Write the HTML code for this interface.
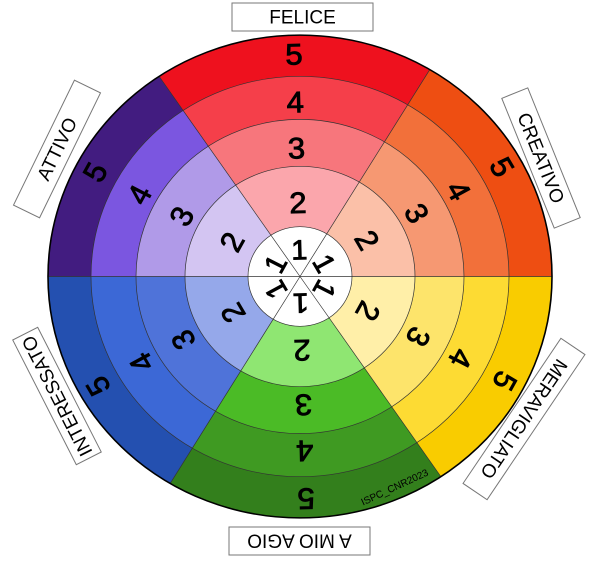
<!DOCTYPE html>
<html><head><meta charset="utf-8"><style>
html,body{margin:0;padding:0;background:#fff;}
svg{display:block;}
text{font-family:"Liberation Sans",sans-serif;}
</style></head><body>
<svg width="600" height="561" viewBox="0 0 600 561" xmlns="http://www.w3.org/2000/svg">
<defs>
<clipPath id="cR"><polygon points="0,0 -279.5,-414.5 257.5,-428.5"/></clipPath>
<clipPath id="cO"><polygon points="0,0 257.5,-428.5 500,0"/></clipPath>
<clipPath id="cY"><polygon points="0,0 500,0 279.5,414.5"/></clipPath>
<clipPath id="cG"><polygon points="0,0 279.5,414.5 -257.5,428.5"/></clipPath>
<clipPath id="cB"><polygon points="0,0 -257.5,428.5 -500,0"/></clipPath>
<clipPath id="cP"><polygon points="0,0 -500,0 -279.5,-414.5"/></clipPath>
</defs>
<g transform="translate(300,276.5) scale(1,0.958)">
<g clip-path="url(#cR)"><circle r="252" fill="#ee111e"/><circle r="209" fill="#f53f4a"/><circle r="164" fill="#f7767c"/><circle r="115" fill="#fba6ac"/></g>
<g clip-path="url(#cO)"><circle r="252" fill="#ee4e12"/><circle r="209" fill="#f2703a"/><circle r="164" fill="#f69872"/><circle r="115" fill="#fbc0a8"/></g>
<g clip-path="url(#cY)"><circle r="252" fill="#f9cc00"/><circle r="209" fill="#fddb33"/><circle r="164" fill="#fde46b"/><circle r="115" fill="#ffefa8"/></g>
<g clip-path="url(#cG)"><circle r="252" fill="#337f1c"/><circle r="209" fill="#3f9a22"/><circle r="164" fill="#4bbb26"/><circle r="115" fill="#8fe672"/></g>
<g clip-path="url(#cB)"><circle r="252" fill="#2450b0"/><circle r="209" fill="#3c68d6"/><circle r="164" fill="#4f73d9"/><circle r="115" fill="#95a8ea"/></g>
<g clip-path="url(#cP)"><circle r="252" fill="#421c80"/><circle r="209" fill="#7b56e0"/><circle r="164" fill="#b09ae8"/><circle r="115" fill="#d3c5f2"/></g>
<circle r="52" fill="#fff"/>
<g fill="none" stroke="#333" stroke-width="0.7">
<circle r="52"/><circle r="115"/><circle r="164"/><circle r="209"/>
<line x1="0" y1="0" x2="-140.9" y2="-208.9"/>
<line x1="0" y1="0" x2="129.8" y2="-216"/>
<line x1="0" y1="0" x2="252" y2="0"/>
<line x1="0" y1="0" x2="140.9" y2="208.9"/>
<line x1="0" y1="0" x2="-129.8" y2="216"/>
<line x1="0" y1="0" x2="-252" y2="0"/>
</g>
<circle r="252" fill="none" stroke="#000" stroke-width="1.6"/>
<g font-size="31" text-anchor="middle" dominant-baseline="central" fill="#000" stroke="#000" stroke-width="0.9">
<g transform="rotate(-1.5)"><text y="-27" font-size="29">1</text><text y="-76">2</text><text y="-133">3</text><text y="-181">4</text><text y="-231">5</text></g>
<g transform="rotate(60.5)"><text y="-27" font-size="29">1</text><text y="-76">2</text><text y="-133">3</text><text y="-181">4</text><text y="-231">5</text></g>
<g transform="rotate(118)"><text y="-27" font-size="29">1</text><text y="-76">2</text><text y="-133">3</text><text y="-181">4</text><text y="-231">5</text></g>
<g transform="rotate(178.5)"><text y="-27" font-size="29">1</text><text y="-76">2</text><text y="-133">3</text><text y="-181">4</text><text y="-231">5</text></g>
<g transform="rotate(240.5)"><text y="-27" font-size="29">1</text><text y="-76">2</text><text y="-133">3</text><text y="-181">4</text><text y="-231">5</text></g>
<g transform="rotate(-62)"><text y="-27" font-size="29">1</text><text y="-76">2</text><text y="-133">3</text><text y="-181">4</text><text y="-231">5</text></g>
</g>
</g>
<text x="395" y="488" font-size="10" text-anchor="middle" dominant-baseline="central" transform="rotate(-25 395 488)">ISPC_CNR2023</text>
<g font-size="19" text-anchor="middle" dominant-baseline="central" fill="#000">
<g transform="translate(302.5,17)"><rect x="-70.5" y="-14" width="141" height="28" fill="#fff" stroke="#777" stroke-width="1"/><text y="1">FELICE</text></g>
<g transform="translate(299.5,541) rotate(180)"><rect x="-70.5" y="-14" width="141" height="28" fill="#fff" stroke="#777" stroke-width="1"/><text y="1">A MIO AGIO</text></g>
<g transform="translate(57,149) rotate(-64)"><rect x="-69.5" y="-14.5" width="139" height="29" fill="#fff" stroke="#777" stroke-width="1"/><text y="1">ATTIVO</text></g>
<g transform="translate(57,396) rotate(-117)"><rect x="-70" y="-14" width="140" height="28" fill="#fff" stroke="#777" stroke-width="1"/><text y="1">INTERESSATO</text></g>
<g transform="translate(541,158) rotate(68)"><rect x="-70" y="-14" width="140" height="28" fill="#fff" stroke="#777" stroke-width="1"/><text y="1">CREATIVO</text></g>
<g transform="translate(524,419) rotate(124)"><rect x="-87.5" y="-14.5" width="175" height="29" fill="#fff" stroke="#777" stroke-width="1"/><text y="1">MERAVIGLIATO</text></g>
</g>
</svg>
</body></html>
